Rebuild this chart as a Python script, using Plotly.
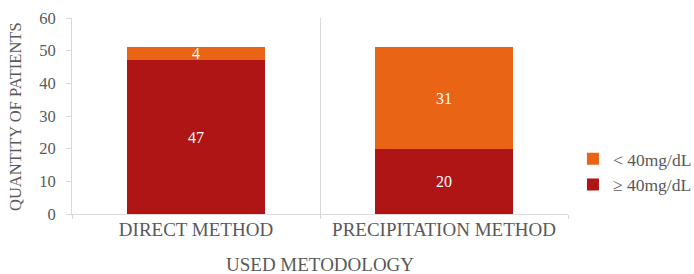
import plotly.graph_objects as go

categories = ["DIRECT METHOD", "PRECIPITATION METHOD"]
high_vals = [47, 20]   # ≥ 40mg/dL
low_vals = [4, 31]     # < 40mg/dL
series_names = ["≥ 40mg/dL", "< 40mg/dL"]
y_ticks = [0, 10, 20, 30, 40, 50, 60]
x_title = "USED METODOLOGY"
y_title = "QUANTITY OF PATIENTS"

font_family = "Liberation Serif, Times New Roman, serif"
gray = "#595959"
grid = "#D9D9D9"

fig = go.Figure()
for vals, name, color in [(high_vals, series_names[0], "#B01516"),
                          (low_vals, series_names[1], "#E96414")]:
    fig.add_trace(go.Bar(
        x=categories, y=vals, name=name,
        marker=dict(color=color, line=dict(width=0)),
        text=vals, textposition="inside", insidetextanchor="middle",
        textangle=0,
        textfont=dict(color="white", size=16, family=font_family),
        constraintext="none",
    ))

fig.update_layout(
    barmode="stack",
    bargap=0.44,
    width=694, height=274,
    margin=dict(l=72, r=126, t=18, b=60, autoexpand=False),
    paper_bgcolor="white", plot_bgcolor="white",
    font=dict(family=font_family, color=gray),
    showlegend=True,
    legend=dict(
        x=1.01, y=0.215, xanchor="left", yanchor="middle",
        traceorder="reversed",
        font=dict(size=17.5, color=gray, family=font_family),
        itemwidth=30, tracegroupgap=4,
    ),
    xaxis=dict(
        type="category", range=[-0.5, 1.5], automargin=False,
        tickson="boundaries", showgrid=True, gridcolor=grid, gridwidth=1,
        ticks="outside", ticklen=4, tickcolor=grid, ticklabelstandoff=-2,
        showline=True, linecolor=grid,
        tickfont=dict(size=19, color=gray, family=font_family),
    ),
    yaxis=dict(
        range=[0, 60], tickvals=y_ticks, showgrid=False, automargin=False,
        showline=True, linecolor=grid, ticks="outside", ticklen=5,
        tickcolor=grid, ticklabelstandoff=7,
        tickfont=dict(size=16.5, color=gray, family=font_family),
        zeroline=False,
    ),
    annotations=[
        dict(text=x_title, xref="paper", yref="paper", x=0.5, y=-0.26,
             xanchor="center", yanchor="middle", showarrow=False,
             font=dict(size=19, color=gray, family=font_family)),
        dict(text=y_title, xref="paper", yref="paper", x=-0.115, y=0.5,
             xanchor="center", yanchor="middle", showarrow=False, textangle=-90,
             font=dict(size=16.5, color=gray, family=font_family)),
    ],
)

fig.write_html("out.html",
               config={"displayModeBar": False},
               post_script="document.body.style.margin='0';document.body.style.overflow='hidden';")
